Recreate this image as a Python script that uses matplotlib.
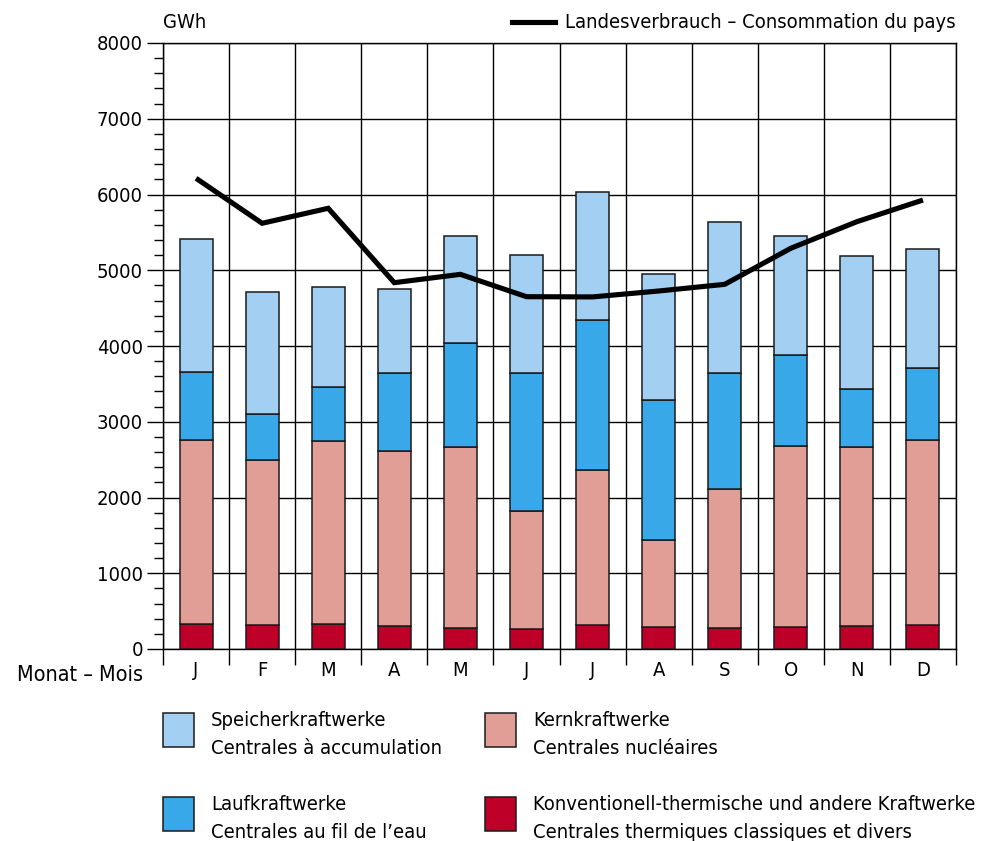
import numpy as np
import matplotlib.pyplot as plt
from matplotlib.patches import Rectangle
from matplotlib.lines import Line2D

plt.rcParams['font.family'] = ['DejaVu Sans']
plt.rcParams['font.stretch'] = 'condensed'
FS = 14.5

# Monthly values (GWh)
months = ['J', 'F', 'M', 'A', 'M', 'J', 'J', 'A', 'S', 'O', 'N', 'D']
thermal = [330, 317, 326, 304, 277, 264, 317, 295, 277, 295, 308, 317]
nuclear_top = [2759, 2491, 2750, 2614, 2667, 1822, 2367, 1439, 2112, 2684, 2667, 2759]
river_top = [3653, 3098, 3459, 3648, 4035, 3639, 4348, 3292, 3648, 3886, 3428, 3710]
storage_top = [5408, 4709, 4779, 4757, 5452, 5205, 6029, 4946, 5641, 5457, 5192, 5277]
consumption = [6214, 5620, 5818, 4836, 4946, 4651, 4648, 4726, 4814, 5290, 5641, 5927]

thermal = np.array(thermal)
nuclear = np.array(nuclear_top) - thermal
river = np.array(river_top) - np.array(nuclear_top)
storage = np.array(storage_top) - np.array(river_top)

c_storage = '#a3cff2'
c_river = '#38a8e8'
c_nuclear = '#e09e96'
c_thermal = '#be0028'

fig = plt.figure(figsize=(9.9, 8.41), dpi=100)
ax = fig.add_axes([163/990, 1 - 649/841, (956 - 163)/990, (649 - 43)/841])

x = np.arange(len(months))
w = 0.5
kw = dict(width=w, edgecolor='#1a1a1a', linewidth=1.1, zorder=3)
ax.bar(x, thermal, color=c_thermal, **kw)
ax.bar(x, nuclear, bottom=thermal, color=c_nuclear, **kw)
ax.bar(x, river, bottom=nuclear_top, color=c_river, **kw)
ax.bar(x, storage, bottom=river_top, color=c_storage, **kw)
ax.plot(x, consumption, color='black', linewidth=3.7, zorder=4,
        solid_joinstyle='miter', solid_capstyle='butt')

ax.set_xlim(-0.5, 11.5)
ax.set_ylim(0, 8000)

ax.set_yticks(np.arange(0, 8001, 1000))
ax.set_yticks(np.arange(0, 8001, 200), minor=True)
ax.set_xticks(x)
ax.set_xticklabels(months)
ax.set_xticks(np.arange(-0.5, 12, 1), minor=True)

ax.tick_params(axis='y', which='major', length=11.5, width=1, labelsize=FS, pad=3)
ax.tick_params(axis='y', which='minor', length=6.5, width=1)
ax.tick_params(axis='x', which='major', length=0, labelsize=FS, pad=9)
ax.tick_params(axis='x', which='minor', length=11.5, width=1)

ax.grid(True, which='major', axis='y', color='black', linewidth=1, zorder=0)
ax.grid(True, which='minor', axis='x', color='black', linewidth=1, zorder=0)
ax.set_axisbelow(True)
for s in ax.spines.values():
    s.set_color('black')
    s.set_linewidth(1)

fig.text(163/990, 1 - 22/841, 'GWh', fontsize=FS, va='center', ha='left')
fig.text(143/990, 1 - 675/841, 'Monat – Mois', fontsize=15.5, va='center', ha='right')

# consumption legend at top
fig.add_artist(Line2D([512/990, 555/990], [1 - 22/841, 1 - 22/841],
                      color='black', linewidth=3.7))
fig.text(565/990, 1 - 22/841, 'Landesverbrauch – Consommation du pays',
         fontsize=FS, va='center', ha='left')

# bar legend below
legend_items = [
    (163, 713, c_storage, 'Speicherkraftwerke', 'Centrales à accumulation'),
    (485, 713, c_nuclear, 'Kernkraftwerke', 'Centrales nucléaires'),
    (163, 797, c_river, 'Laufkraftwerke', 'Centrales au fil de l’eau'),
    (485, 797, c_thermal, 'Konventionell-thermische und andere Kraftwerke',
     'Centrales thermiques classiques et divers'),
]
for px, py, col, de, fr in legend_items:
    fig.add_artist(Rectangle((px/990, 1 - (py + 34)/841), 31/990, 34/841,
                             facecolor=col, edgecolor='#1a1a1a', linewidth=1.1))
    fig.text((px + 48)/990, 1 - (py + 7)/841, de, fontsize=FS, va='center', ha='left')
    fig.text((px + 48)/990, 1 - (py + 35)/841, fr, fontsize=FS, va='center', ha='left')

fig.savefig('out.png', dpi=100)
